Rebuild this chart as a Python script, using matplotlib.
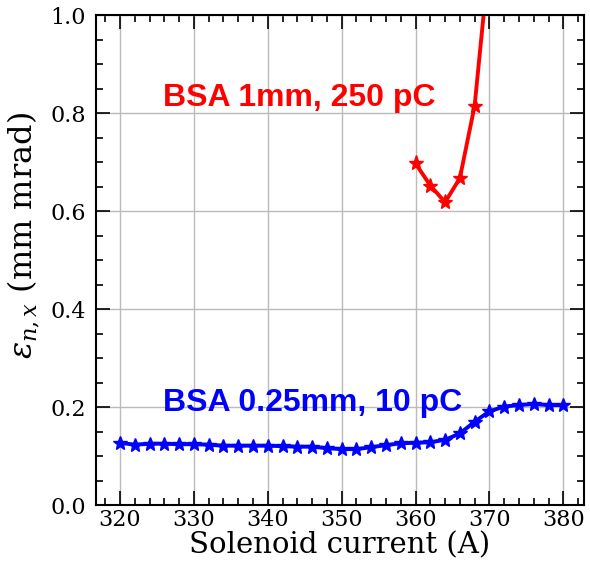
import numpy as np
import matplotlib
matplotlib.use('Agg')
import matplotlib.pyplot as plt
from matplotlib.ticker import MultipleLocator

# data
current_1mm = [360, 362, 364, 366, 368, 370]
emit_1mm = [0.697, 0.652, 0.618, 0.667, 0.815, 1.12]

current_025mm = list(range(320, 381, 2))
emit_025mm = [0.127, 0.123, 0.125, 0.125, 0.124, 0.124, 0.123, 0.121, 0.121, 0.121,
              0.121, 0.120, 0.119, 0.119, 0.116, 0.114, 0.114, 0.118, 0.122, 0.126,
              0.127, 0.128, 0.133, 0.146, 0.170, 0.191, 0.201, 0.204, 0.206, 0.204,
              0.204]

label_1mm = 'BSA 1mm, 250 pC'
label_025mm = 'BSA 0.25mm, 10 pC'

plt.rcParams['font.family'] = 'DejaVu Serif'
plt.rcParams['mathtext.fontset'] = 'dejavuserif'

fig = plt.figure(figsize=(5.9, 5.62), dpi=100)
ax = fig.add_axes([0.1627, 0.1014, 0.8271, 0.8719])

ax.plot(current_1mm, emit_1mm, '-*', color='red', lw=2.8, ms=11)
ax.plot(current_025mm, emit_025mm, '-*', color='blue', lw=2.8, ms=10)

ax.text(325.8, 0.83, label_1mm, color='red', fontsize=23, fontweight='bold',
        family='Liberation Sans', va='center')
ax.text(325.8, 0.208, label_025mm, color='blue', fontsize=23, fontweight='bold',
        family='Liberation Sans', va='center')

ax.set_xlim(316.75, 382.8)
ax.set_ylim(0, 1.0)
ax.xaxis.set_major_locator(MultipleLocator(10))
ax.xaxis.set_minor_locator(MultipleLocator(2))
ax.yaxis.set_major_locator(MultipleLocator(0.2))
ax.yaxis.set_minor_locator(MultipleLocator(0.05))
ax.tick_params(axis='both', which='both', direction='in', top=True, right=True,
               labelsize=16, width=1.2)
ax.tick_params(axis='y', pad=7)
ax.tick_params(axis='x', pad=3)
ax.tick_params(which='major', length=10)
ax.tick_params(which='minor', length=5)
ax.grid(True, which='major', color='#bbbbbb', lw=1)
for sp in ax.spines.values():
    sp.set_linewidth(1.5)

ax.set_xlabel('Solenoid current (A)', fontsize=21, labelpad=0)
ax.set_ylabel(r'$\varepsilon_{n,x}$ (mm mrad)', fontsize=23)
ax.yaxis.set_label_coords(-0.111, 0.55)

fig.savefig('out.png', dpi=100)
